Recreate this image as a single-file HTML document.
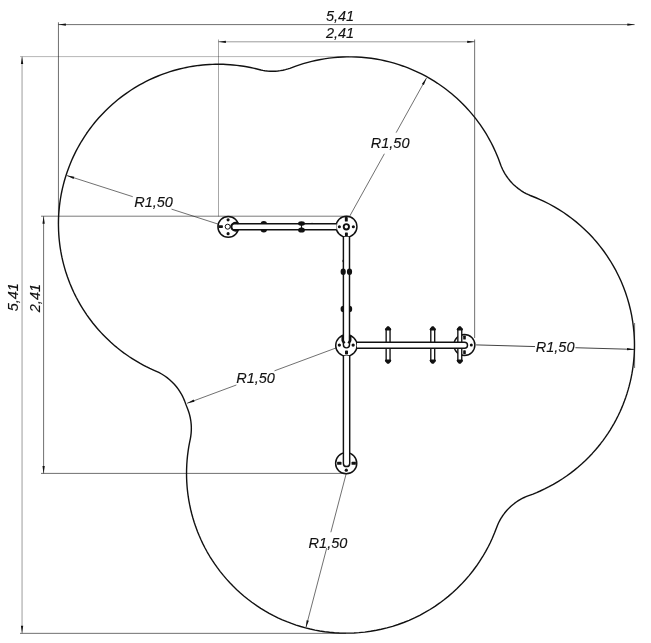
<!DOCTYPE html>
<html><head><meta charset="utf-8"><title>Plan</title>
<style>
html,body{margin:0;padding:0;background:#fff;}
svg{display:block;}
text{font-family:"Liberation Sans",sans-serif;font-style:italic;font-size:14.5px;fill:#111;stroke:#111;stroke-width:0.12px;}
svg{filter:grayscale(1);}
</style></head><body>
<svg width="651" height="643" viewBox="0 0 651 643">
<rect width="651" height="643" fill="#fff"/>
<line x1="58.45" y1="22.30" x2="58.45" y2="224.00" stroke="#222" stroke-width="0.65" fill="none"/>
<line x1="218.50" y1="39.50" x2="218.50" y2="216.50" stroke="#222" stroke-width="0.40" fill="none"/>
<line x1="474.65" y1="39.50" x2="474.65" y2="338.00" stroke="#222" stroke-width="0.65" fill="none"/>
<line x1="20.00" y1="56.60" x2="349.00" y2="56.60" stroke="#222" stroke-width="0.33" fill="none"/>
<line x1="41.00" y1="216.20" x2="349.00" y2="216.20" stroke="#222" stroke-width="0.60" fill="none"/>
<line x1="41.00" y1="473.40" x2="345.00" y2="473.40" stroke="#222" stroke-width="0.65" fill="none"/>
<line x1="20.00" y1="633.35" x2="346.00" y2="633.35" stroke="#222" stroke-width="0.65" fill="none"/>
<line x1="634.60" y1="323.00" x2="634.60" y2="368.00" stroke="#222" stroke-width="0.65" fill="none"/>
<line x1="58.40" y1="24.60" x2="634.60" y2="24.60" stroke="#222" stroke-width="0.65" fill="none"/>
<polygon points="58.40,24.60 65.90,23.45 65.90,25.75" fill="#111"/>
<polygon points="634.80,24.60 627.30,25.75 627.30,23.45" fill="#111"/>
<line x1="218.40" y1="41.80" x2="474.70" y2="41.80" stroke="#222" stroke-width="0.45" fill="none"/>
<polygon points="218.40,41.80 225.90,40.65 225.90,42.95" fill="#111"/>
<polygon points="474.70,41.80 467.20,42.95 467.20,40.65" fill="#111"/>
<line x1="22.05" y1="56.60" x2="22.05" y2="633.30" stroke="#222" stroke-width="0.45" fill="none"/>
<polygon points="22.05,56.60 23.20,64.10 20.90,64.10" fill="#111"/>
<polygon points="22.05,633.30 20.90,625.80 23.20,625.80" fill="#111"/>
<line x1="43.60" y1="216.20" x2="43.60" y2="473.40" stroke="#222" stroke-width="0.65" fill="none"/>
<polygon points="43.60,216.20 44.75,223.70 42.45,223.70" fill="#111"/>
<polygon points="43.60,473.40 42.45,465.90 44.75,465.90" fill="#111"/>
<text x="325.90" y="21.20">5,41</text>
<text x="325.90" y="38.40">2,41</text>
<text x="18.00" y="311.30" transform="rotate(-90 18.00 311.30)">5,41</text>
<text x="39.80" y="312.20" transform="rotate(-90 39.80 312.20)">2,41</text>
<line x1="218.10" y1="224.10" x2="171.50" y2="209.13" stroke="#222" stroke-width="0.65" fill="none"/>
<line x1="132.77" y1="196.69" x2="66.80" y2="175.50" stroke="#222" stroke-width="0.65" fill="none"/>
<polygon points="66.80,175.50 74.29,176.70 73.59,178.89" fill="#111"/>
<text x="134.20" y="207.10">R1,50</text>
<line x1="349.80" y1="216.00" x2="384.39" y2="153.76" stroke="#222" stroke-width="0.65" fill="none"/>
<line x1="396.13" y1="132.65" x2="426.50" y2="78.00" stroke="#222" stroke-width="0.65" fill="none"/>
<polygon points="426.50,78.00 423.86,85.11 421.85,84.00" fill="#111"/>
<text x="370.80" y="148.00">R1,50</text>
<line x1="476.10" y1="344.90" x2="535.02" y2="346.57" stroke="#222" stroke-width="0.85" fill="none"/>
<line x1="575.42" y1="347.72" x2="634.50" y2="349.40" stroke="#222" stroke-width="0.85" fill="none"/>
<polygon points="634.50,349.40 626.97,350.34 627.04,348.04" fill="#111"/>
<text x="535.80" y="352.30">R1,50</text>
<line x1="335.90" y1="348.00" x2="274.51" y2="370.82" stroke="#222" stroke-width="0.65" fill="none"/>
<line x1="236.40" y1="384.98" x2="187.10" y2="403.30" stroke="#222" stroke-width="0.65" fill="none"/>
<polygon points="187.10,403.30 193.73,399.61 194.53,401.77" fill="#111"/>
<text x="236.20" y="383.10">R1,50</text>
<line x1="346.10" y1="474.00" x2="330.85" y2="532.25" stroke="#222" stroke-width="0.65" fill="none"/>
<line x1="326.74" y1="547.93" x2="305.85" y2="627.70" stroke="#222" stroke-width="0.65" fill="none"/>
<polygon points="305.85,627.70 306.64,620.15 308.86,620.74" fill="#111"/>
<text x="308.60" y="547.60">R1,50</text>
<g id="equipment">
<circle cx="228.30" cy="226.85" r="10.40" fill="#fff" stroke="#111" stroke-width="1.45"/>
<circle cx="346.50" cy="226.70" r="10.45" fill="#fff" stroke="#111" stroke-width="1.45"/>
<circle cx="346.40" cy="345.50" r="10.70" fill="#fff" stroke="#111" stroke-width="1.45"/>
<circle cx="464.40" cy="345.00" r="10.50" fill="#fff" stroke="#111" stroke-width="1.45"/>
<circle cx="346.20" cy="463.20" r="10.60" fill="#fff" stroke="#111" stroke-width="1.45"/>
<circle cx="228.10" cy="219.85" r="1.55" fill="#111"/>
<circle cx="228.10" cy="233.65" r="1.55" fill="#111"/>
<rect x="218.30" y="225.25" width="4.60" height="2.80" rx="0.7" fill="#111"/>
<circle cx="227.70" cy="226.70" r="2.50" fill="#fff" stroke="#111" stroke-width="1.0"/>
<circle cx="339.35" cy="226.80" r="1.55" fill="#111"/>
<circle cx="353.35" cy="226.80" r="1.55" fill="#111"/>
<rect x="344.85" y="217.00" width="2.90" height="4.60" rx="0.7" fill="#111"/>
<rect x="344.95" y="232.40" width="2.90" height="4.00" rx="0.7" fill="#111"/>
<circle cx="346.35" cy="226.80" r="2.65" fill="#fff" stroke="#111" stroke-width="1.9"/>
<circle cx="339.35" cy="345.10" r="1.65" fill="#111"/>
<circle cx="353.15" cy="345.10" r="1.65" fill="#111"/>
<rect x="345.00" y="350.60" width="3.00" height="3.80" rx="0.7" fill="#111"/>
<circle cx="471.30" cy="345.00" r="1.50" fill="#111"/>
<rect x="463.20" y="335.60" width="2.60" height="4.00" rx="0.7" fill="#111"/>
<rect x="463.20" y="350.30" width="2.60" height="4.00" rx="0.7" fill="#111"/>
<circle cx="346.30" cy="470.20" r="1.60" fill="#111"/>
<rect x="337.10" y="461.75" width="4.40" height="3.10" rx="0.7" fill="#111"/>
<rect x="351.50" y="461.75" width="4.40" height="3.10" rx="0.7" fill="#111"/>
<rect x="386.15" y="328.80" width="3.9" height="32.6" fill="#fff" stroke="#111" stroke-width="1.35"/>
<path d="M387.30 326.20 Q386.70 326.50 384.80 329.50 L385.70 330.60 L390.50 330.60 L391.40 329.50 Q389.50 326.50 388.90 326.20 Z" fill="#111"/>
<path d="M387.30 363.80 Q386.70 363.50 384.80 360.50 L385.70 359.40 L390.50 359.40 L391.40 360.50 Q389.50 363.50 388.90 363.80 Z" fill="#111"/>
<rect x="430.80" y="328.80" width="3.9" height="32.6" fill="#fff" stroke="#111" stroke-width="1.35"/>
<path d="M431.95 326.20 Q431.35 326.50 429.45 329.50 L430.35 330.60 L435.15 330.60 L436.05 329.50 Q434.15 326.50 433.55 326.20 Z" fill="#111"/>
<path d="M431.95 363.80 Q431.35 363.50 429.45 360.50 L430.35 359.40 L435.15 359.40 L436.05 360.50 Q434.15 363.50 433.55 363.80 Z" fill="#111"/>
<rect x="457.85" y="328.80" width="3.9" height="32.6" fill="#fff" stroke="#111" stroke-width="1.35"/>
<path d="M459.00 326.20 Q458.40 326.50 456.50 329.50 L457.40 330.60 L462.20 330.60 L463.10 329.50 Q461.20 326.50 460.60 326.20 Z" fill="#111"/>
<path d="M459.00 363.80 Q458.40 363.50 456.50 360.50 L457.40 359.40 L462.20 359.40 L463.10 360.50 Q461.20 363.50 460.60 363.80 Z" fill="#111"/>
<path d="M336.6 223.8 H234.0 A3.0 3.0 0 0 0 234.0 229.8 H336.6" fill="#fff" stroke="#111" stroke-width="1.45"/>
<path d="M343.4 236.9 V344.8 A3.05 3.05 0 0 0 349.5 344.8 V236.9" fill="#fff" stroke="#111" stroke-width="1.45"/>
<path d="M357.0 342.2 H464.5 A3.0 3.0 0 0 1 464.5 348.2 H357.0" fill="#fff" stroke="#111" stroke-width="1.45"/>
<path d="M343.4 356.0 V463.4 A3.15 3.15 0 0 0 349.7 463.4 V356.0" fill="#fff" stroke="#111" stroke-width="1.45"/>
<path d="M238.4 223.4 L235.6 222.75 A4.05 4.05 0 0 0 235.6 230.85 L238.4 230.2" fill="none" stroke="#111" stroke-width="1.8"/>
<path d="M342.7 335.6 V340.6 L344.4 343.3 M350.2 335.6 V340.6 L348.5 343.3" fill="none" stroke="#111" stroke-width="2.5" stroke-linejoin="round"/>
<path d="M260.6 224.0 A3.2 2.9 0 0 1 267.0 224.0 Z" fill="#111"/>
<path d="M260.6 229.6 A3.2 2.9 0 0 0 267.0 229.6 Z" fill="#111"/>
<ellipse cx="301.50" cy="223.40" rx="3.40" ry="2.20" fill="#111"/>
<ellipse cx="301.50" cy="230.00" rx="3.40" ry="2.60" fill="#111"/>
<path d="M300.5 225 L302.5 225 L301.9 226.8 L302.5 228.4 L300.5 228.4 L301.1 226.8Z" fill="#111"/>
<rect x="311.3" y="222.9" width="1.6" height="0.8" fill="#111"/>
<rect x="342.5" y="259.9" width="0.7" height="2.2" fill="#111"/>
<ellipse cx="343.20" cy="271.80" rx="2.60" ry="3.30" fill="#111"/>
<ellipse cx="349.50" cy="271.80" rx="2.60" ry="3.30" fill="#111"/>
<path d="M343.5 305.8 A2.9 3.2 0 0 0 343.5 312.2 Z" fill="#111"/>
<path d="M349.3 305.8 A2.9 3.2 0 0 1 349.3 312.2 Z" fill="#111"/>
</g>
<path d="M155.79 371.06 L158.76 372.44 L161.64 374.00 L164.42 375.73 L167.09 377.63 L169.63 379.68 L172.05 381.90 L174.32 384.25 L176.45 386.74 L178.42 389.36 L179.88 391.54 L181.22 393.78 L182.75 396.68 L183.58 398.46 L184.58 400.88 L186.05 404.87 L187.97 409.77 L188.83 412.26 L189.40 414.16 L190.04 416.72 L190.56 419.30 L190.86 421.26 L191.15 423.88 L191.28 425.85 L191.34 427.83 L191.30 430.46 L191.14 433.10 L190.75 436.37 L190.42 438.32 L189.45 443.07 L188.75 446.93 L188.15 450.81 L187.53 455.67 L187.14 459.57 L186.79 464.46 L186.59 469.36 L186.54 474.26 L186.61 478.18 L186.78 482.10 L187.04 486.01 L187.30 488.94 L187.73 492.83 L188.25 496.72 L188.87 500.59 L189.59 504.45 L190.61 509.24 L191.79 514.00 L192.83 517.78 L194.26 522.47 L195.84 527.11 L197.56 531.70 L199.03 535.33 L201.00 539.82 L202.67 543.36 L204.89 547.74 L207.23 552.04 L209.71 556.27 L212.32 560.42 L214.49 563.68 L217.33 567.68 L220.28 571.59 L223.35 575.41 L226.54 579.14 L229.84 582.76 L233.25 586.28 L236.76 589.70 L240.38 593.00 L244.10 596.19 L247.91 599.27 L251.82 602.23 L256.63 605.62 L260.73 608.31 L264.90 610.87 L269.16 613.30 L273.49 615.60 L277.88 617.77 L282.34 619.80 L286.86 621.69 L291.44 623.45 L296.07 625.06 L300.75 626.53 L305.46 627.85 L310.22 629.03 L315.01 630.07 L319.83 630.95 L324.68 631.69 L329.54 632.28 L334.43 632.72 L339.32 633.01 L344.22 633.15 L349.12 633.13 L354.02 632.97 L358.91 632.66 L364.76 632.09 L370.59 631.30 L376.39 630.30 L381.18 629.30 L386.90 627.91 L392.56 626.32 L398.16 624.51 L403.68 622.50 L409.13 620.29 L414.50 617.87 L419.77 615.27 L424.94 612.47 L430.00 609.48 L434.96 606.30 L439.79 602.95 L443.72 600.02 L448.31 596.35 L452.77 592.51 L457.08 588.51 L461.24 584.36 L465.25 580.05 L469.09 575.60 L472.77 571.01 L476.28 566.29 L479.61 561.44 L482.76 556.48 L485.73 551.40 L488.50 546.21 L490.25 542.70 L492.30 538.25 L494.59 532.84 L497.53 525.19 L498.60 522.80 L500.11 519.88 L501.10 518.17 L502.16 516.51 L503.27 514.88 L504.45 513.30 L505.68 511.76 L506.97 510.27 L509.23 507.89 L510.66 506.53 L512.14 505.23 L514.71 503.18 L516.31 502.02 L517.95 500.93 L519.63 499.90 L521.34 498.93 L523.69 497.74 L525.48 496.93 L527.30 496.18 L533.00 494.04 L536.63 492.57 L540.22 491.00 L544.66 488.93 L549.04 486.71 L553.34 484.37 L558.40 481.38 L562.54 478.74 L566.59 475.99 L570.56 473.11 L574.43 470.11 L578.21 466.99 L581.90 463.76 L585.48 460.41 L588.96 456.96 L592.33 453.40 L595.59 449.74 L598.12 446.75 L600.57 443.69 L602.95 440.57 L605.25 437.39 L608.01 433.34 L610.13 430.05 L612.17 426.70 L614.13 423.30 L616.00 419.85 L618.22 415.48 L619.90 411.94 L621.49 408.36 L622.99 404.74 L624.41 401.08 L625.73 397.39 L626.96 393.67 L628.10 389.91 L629.15 386.14 L630.33 381.38 L631.17 377.55 L631.92 373.70 L632.56 369.83 L633.24 364.98 L633.77 360.11 L634.09 356.20 L634.31 352.28 L634.43 348.36 L634.46 344.44 L634.39 340.52 L634.22 336.60 L633.96 332.69 L633.39 326.84 L632.60 321.01 L631.60 315.21 L630.39 309.46 L628.96 303.75 L627.33 298.10 L625.49 292.52 L623.44 287.00 L621.20 281.57 L618.75 276.22 L616.11 270.96 L613.28 265.81 L610.26 260.76 L607.06 255.83 L603.67 251.02 L600.12 246.34 L596.39 241.79 L593.16 238.10 L589.13 233.82 L584.95 229.68 L580.62 225.70 L576.15 221.88 L571.53 218.23 L567.59 215.32 L563.56 212.53 L558.61 209.35 L554.40 206.84 L549.25 204.00 L544.00 201.35 L539.55 199.30 L535.95 197.75 L530.28 195.49 L528.46 194.71 L526.10 193.56 L523.79 192.29 L521.00 190.55 L518.32 188.64 L515.76 186.57 L514.29 185.25 L512.87 183.88 L511.51 182.46 L510.19 180.98 L508.12 178.42 L506.22 175.74 L505.16 174.08 L504.16 172.38 L502.63 169.46 L501.54 167.06 L500.81 165.23 L498.24 158.30 L496.77 154.67 L495.60 151.97 L493.13 146.64 L490.91 142.26 L489.04 138.82 L487.59 136.26 L486.09 133.73 L484.01 130.41 L481.86 127.13 L480.19 124.71 L478.47 122.32 L476.12 119.18 L474.31 116.87 L471.82 113.84 L469.26 110.86 L467.30 108.68 L465.29 106.53 L462.55 103.72 L459.75 100.98 L456.88 98.31 L453.94 95.71 L451.70 93.81 L449.42 91.95 L446.33 89.53 L443.98 87.77 L440.79 85.49 L437.54 83.29 L434.25 81.17 L430.05 78.63 L425.78 76.23 L421.44 73.95 L417.03 71.81 L412.56 69.81 L408.02 67.95 L403.44 66.22 L398.80 64.64 L394.11 63.20 L389.39 61.90 L384.62 60.75 L380.79 59.93 L375.97 59.05 L371.12 58.31 L366.26 57.72 L361.37 57.28 L356.48 56.99 L351.58 56.85 L346.68 56.87 L342.76 56.98 L337.87 57.26 L333.96 57.60 L329.09 58.15 L324.24 58.85 L319.41 59.70 L315.57 60.48 L311.75 61.36 L307.01 62.59 L303.24 63.68 L299.50 64.87 L295.79 66.14 L289.84 68.34 L287.98 68.95 L285.47 69.65 L282.93 70.22 L280.36 70.67 L277.77 71.00 L275.17 71.19 L272.56 71.26 L269.96 71.21 L267.36 71.02 L264.77 70.71 L262.84 70.39 L260.92 70.00 L253.32 68.15 L250.45 67.53 L246.60 66.78 L243.70 66.29 L239.82 65.71 L236.90 65.34 L233.01 64.93 L230.07 64.68 L226.16 64.44 L223.22 64.32 L219.30 64.24 L215.38 64.27 L212.44 64.34 L209.50 64.48 L205.59 64.74 L202.66 65.00 L198.77 65.43 L192.94 66.25 L189.08 66.92 L186.19 67.48 L183.32 68.10 L179.50 69.00 L173.82 70.53 L170.07 71.66 L167.27 72.58 L163.57 73.87 L160.82 74.90 L158.08 75.98 L154.47 77.50 L149.12 79.95 L145.61 81.69 L143.00 83.05 L139.56 84.93 L137.02 86.41 L134.50 87.92 L131.18 90.02 L126.31 93.31 L123.13 95.61 L120.78 97.38 L117.70 99.81 L115.44 101.68 L112.46 104.24 L110.28 106.20 L108.13 108.21 L105.32 110.95 L101.23 115.18 L98.60 118.08 L96.67 120.30 L94.78 122.55 L92.33 125.61 L89.95 128.73 L88.22 131.11 L86.53 133.52 L84.35 136.78 L81.23 141.76 L79.74 144.30 L77.83 147.72 L76.00 151.19 L74.68 153.82 L73.00 157.36 L71.80 160.04 L70.28 163.66 L69.19 166.39 L67.17 171.91 L66.24 174.70 L65.07 178.45 L64.26 181.27 L63.26 185.06 L62.35 188.88 L61.73 191.75 L61.16 194.64 L60.49 198.50 L59.91 202.38 L59.54 205.30 L58.96 211.15 L58.69 215.06 L58.55 218.00 L58.47 220.94 L58.44 224.86 L58.58 230.74 L58.80 234.65 L59.02 237.58 L59.30 240.51 L59.75 244.41 L60.15 247.32 L60.77 251.19 L61.49 255.05 L62.08 257.93 L62.74 260.79 L63.69 264.60 L64.73 268.38 L65.57 271.20 L67.41 276.78 L68.41 279.55 L69.82 283.21 L72.10 288.63 L73.73 292.20 L75.01 294.84 L76.33 297.47 L78.18 300.93 L80.11 304.34 L81.61 306.87 L83.16 309.37 L85.30 312.66 L86.95 315.09 L89.23 318.28 L92.78 322.96 L96.51 327.51 L98.44 329.74 L101.07 332.64 L103.09 334.78 L105.84 337.57 L107.95 339.62 L110.82 342.29 L115.25 346.16 L117.51 348.04 L120.59 350.47 L123.72 352.83 L126.11 354.55 L129.34 356.77 L131.80 358.38 L135.12 360.46 L137.65 361.97 L140.20 363.43 L143.65 365.30 L146.26 366.65 L149.78 368.37 L152.45 369.60 L155.79 371.06Z" fill="none" stroke="#111" stroke-width="1.4" stroke-linejoin="round"/>
</svg>
</body></html>
